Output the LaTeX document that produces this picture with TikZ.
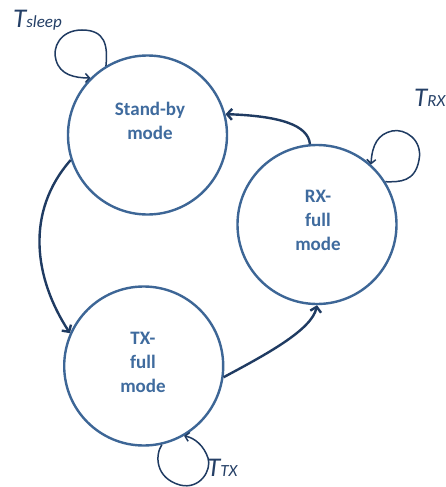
\documentclass[tikz,border=0pt]{standalone}
\usepackage{fontspec}
\setmainfont{Carlito}
\usetikzlibrary{arrows.meta}
\definecolor{ring}{HTML}{3D6696}
\definecolor{stxt}{HTML}{3F6B9E}
\definecolor{arr}{HTML}{1F3B62}
\definecolor{lbl}{HTML}{243F66}
\tikzset{
  state/.style={circle, draw=ring, line width=2.4pt, minimum size=159pt, inner sep=0pt},
  stxt/.style={text=stxt, font=\fontsize{19}{24}\selectfont\bfseries, align=center, inner sep=0pt},
  trans/.style={draw=arr, line width=2.4pt, -{Straight Barb[length=5pt,width=11pt]}},
  selfloop/.style={draw=arr, line width=1.5pt, -{Straight Barb[length=4pt,width=9pt]}},
  tlabel/.style={text=lbl, anchor=base west, inner sep=0pt}
}
\newcommand{\tlab}[1]{{\fontsize{27}{27}\selectfont\itshape T}{\fontsize{17}{17}\selectfont\itshape #1}}
\begin{document}
\begin{tikzpicture}[x=1pt,y=-1pt]
\useasboundingbox (0,0) rectangle (445,487);
\fill[white] (0,0) rectangle (445,487);

\node[state] (sb) at (147.5,135) {};
\node[state] (rx) at (317,224.5) {};
\node[state] (tx) at (143.7,366) {};

\node[stxt] (sbt) at (150,121) {Stand-by\\mode};
\node[stxt] (rxt) at (318,220) {RX-\\full\\mode};
\node[stxt] (txt) at (143,362) {TX-\\full\\mode};

\node[tlabel] (ls) at (13,28) {\tlab{sleep}};
\node[tlabel] (lr) at (414,106) {\tlab{RX}};
\node[tlabel] (lt) at (207,476) {\tlab{TX}};

% transitions
\draw[trans] (sb.198) .. controls (25,212) and (34,278) .. (tx.156);
\draw[trans] (tx.352) .. controls (265,355) and (312,330) .. (rx.270);
\draw[trans] (rx.95) .. controls (308,125) and (280,116) .. (sb.15);

% self loops
\draw[selfloop] (sb.121) .. controls (108,45) and (105,30) .. (82,30)
   .. controls (60,30) and (52,48) .. (56,60)
   .. controls (60,75) and (75,78) .. (sb.135);
\draw[selfloop] (rx.32) .. controls (400,182) and (415,182) .. (419,160)
   .. controls (423,140) and (405,128) .. (392,131)
   .. controls (378,134) and (372,145) .. (rx.48);
\draw[selfloop] (tx.283) .. controls (155,455) and (155,478) .. (180,485)
   .. controls (200,490) and (212,470) .. (208,458)
   .. controls (204,446) and (195,438) .. (tx.300);
\end{tikzpicture}
\end{document}
